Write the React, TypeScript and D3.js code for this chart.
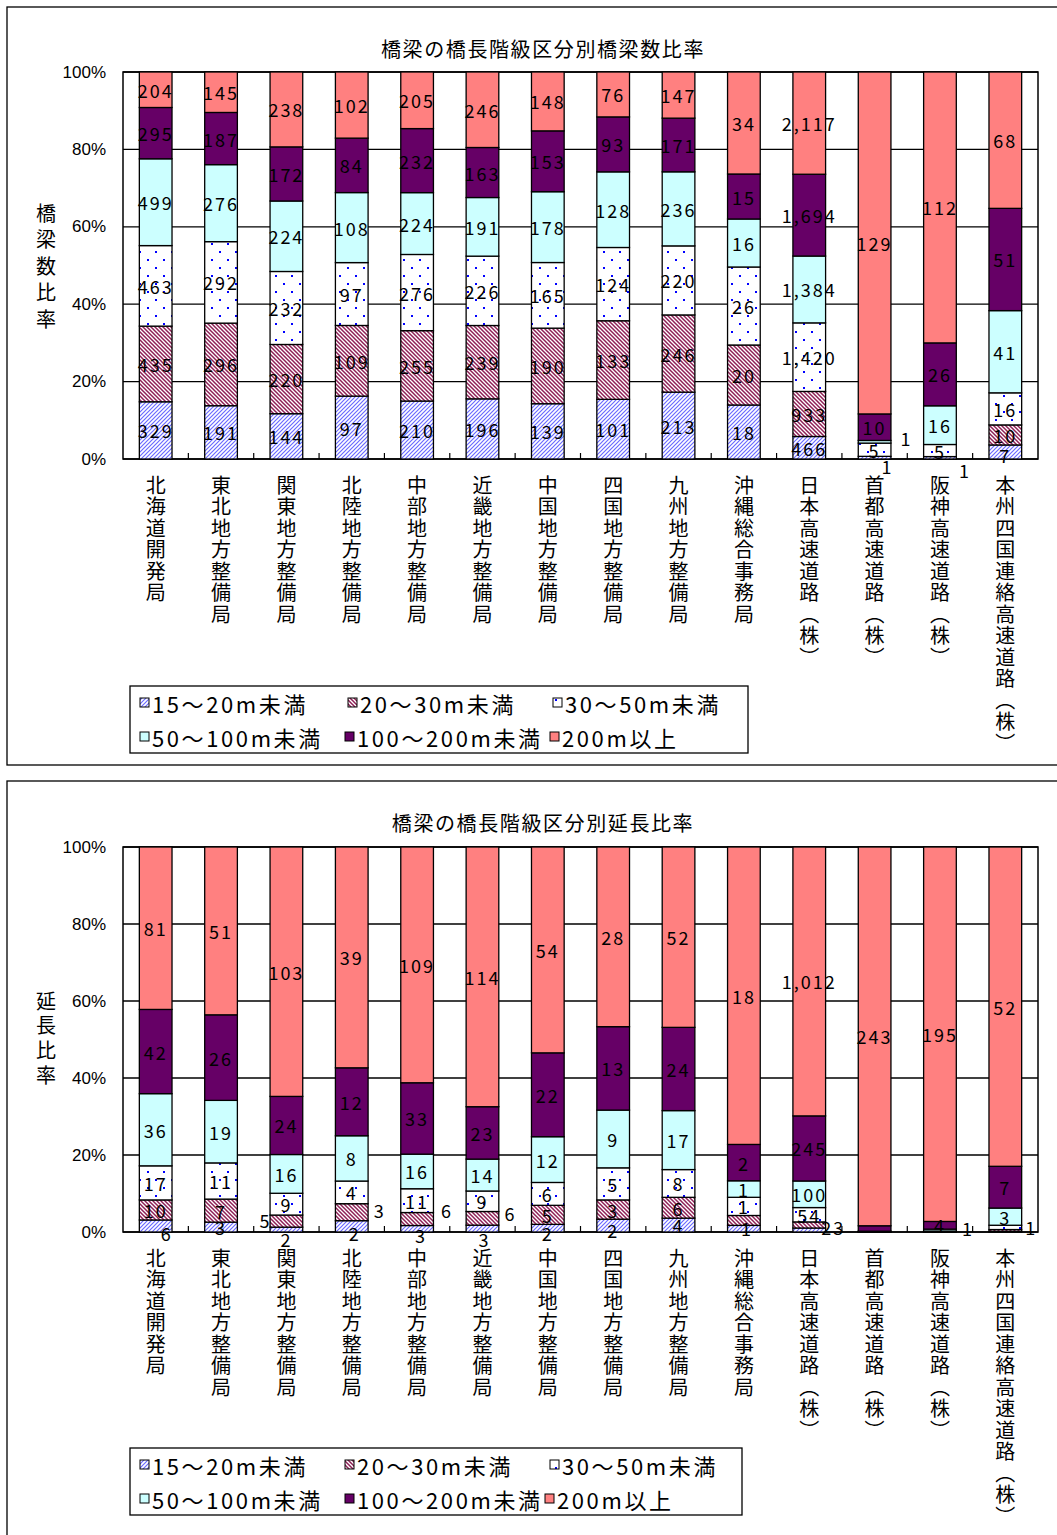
import React from 'react';
import * as d3 from 'd3';

const categories = [
  '北海道開発局', '東北地方整備局', '関東地方整備局', '北陸地方整備局', '中部地方整備局',
  '近畿地方整備局', '中国地方整備局', '四国地方整備局', '九州地方整備局', '沖縄総合事務局',
  '日本高速道路（株）', '首都高速道路（株）', '阪神高速道路（株）', '本州四国連絡高速道路（株）',
];
const seriesNames = ['15～20m未満', '20～30m未満', '30～50m未満', '50～100m未満', '100～200m未満', '200m以上'];
const yTicks = [0, 0.2, 0.4, 0.6, 0.8, 1];

// 橋梁数
const count15to20 = [329, 191, 144, 97, 210, 196, 139, 101, 213, 18, 466, 1, 1, 7];
const count20to30 = [435, 296, 220, 109, 255, 239, 190, 133, 246, 20, 933, 0, 0, 10];
const count30to50 = [463, 292, 232, 97, 276, 226, 165, 124, 220, 26, 1420, 5, 5, 16];
const count50to100 = [499, 276, 224, 108, 224, 191, 178, 128, 236, 16, 1384, 1, 16, 41];
const count100to200 = [295, 187, 172, 84, 232, 163, 153, 93, 171, 15, 1694, 10, 26, 51];
const count200plus = [204, 145, 238, 102, 205, 246, 148, 76, 147, 34, 2117, 129, 112, 68];

// 延長 (km)
const length15to20 = [6, 3, 2, 2, 3, 3, 2, 2, 4, 0.4, 15, 0.1, 0.1, 0.1];
const length20to30 = [10, 7, 5, 3, 6, 6, 5, 3, 6, 0.6, 23, 0.1, 0.1, 0.3];
const length30to50 = [17, 11, 9, 4, 11, 9, 6, 5, 8, 1.1, 54, 0.2, 0.3, 0.7];
const length50to100 = [36, 19, 16, 8, 16, 14, 12, 9, 17, 1.0, 100, 0.1, 1, 2.8];
const length100to200 = [42, 26, 24, 12, 33, 23, 22, 13, 24, 2.2, 245, 3.5, 4, 6.8];
const length200plus = [81, 51, 103, 39, 109, 114, 54, 28, 52, 18, 1012, 243, 195, 52];

// label nudges (category index, series index, dx, dy) and hidden labels
const countLabelShift = [
  [11, 0, 13, 8], [11, 3, 32, -4], [12, 0, 25, 12], [13, 0, 0, 3],
];
const countHidden: number[][] = [];
const lengthLabelShift = [
  [0, 0, 11, 7], [2, 0, 0, 9], [2, 1, -21, -1], [3, 0, 3, 7], [3, 1, 28, -2],
  [4, 0, 4, 6], [4, 1, 30, -9], [5, 0, 2, 10], [5, 1, 28, -5], [6, 0, 0, 5],
  [7, 0, 0, 4], [9, 1, 3, 8], [10, 1, 24, 2], [12, 3, 28, -2], [13, 2, 26, 0],
];
const lengthHidden = [[10, 0], [11, 4]];

const JP = '"Noto Sans CJK JP", "Noto Sans", sans-serif';
const fills = ['url(#pat-s1)', 'url(#pat-s2)', 'url(#pat-s3)', '#CCFFFF', '#660066', '#FF8080'];
const fmt = d3.format(',.0f');

type PanelProps = {
  frameY: number; frameH: number; title: string; titleY: number;
  plotTop: number; plotBottom: number; yTitle: string; yTitleY: number; yTitleSpacing: number;
  xLabelY: number; legendBox: number[]; legendCols: number[][];
  series: number[][]; shifts: number[][]; hidden: number[][];
};

function Panel(p: PanelProps) {
  const left = 123, right = 1038;
  const keys = seriesNames.map((_, j) => 's' + j);
  const table = categories.map((c, i) => {
    const o: any = { cat: c };
    p.series.forEach((arr, j) => { o['s' + j] = arr[i]; });
    return o;
  });
  const stacked = d3.stack<any>().keys(keys).offset(d3.stackOffsetExpand)(table);
  const x = d3.scaleBand<string>().domain(categories).range([left, right]).paddingInner(0.5).paddingOuter(0.25);
  const y = d3.scaleLinear().domain([0, 1]).range([p.plotBottom, p.plotTop]);
  const step = x.step();
  const [lx, ly, lw, lh] = p.legendBox;

  return (
    <g>
      <rect x={7} y={p.frameY} width={1070} height={p.frameH} fill="#fff" stroke="#000" strokeWidth={1.3} />
      <text x={543} y={p.titleY} textAnchor="middle" dominantBaseline="central" fontFamily={JP} fontSize={20} letterSpacing={1.6}>{p.title}</text>
      <rect x={left} y={p.plotTop} width={right - left} height={p.plotBottom - p.plotTop} fill="#fff" stroke="#000" strokeWidth={1.5} />
      {yTicks.map(t => (
        <g key={t}>
          <line x1={left} x2={right} y1={y(t)} y2={y(t)} stroke="#000" strokeWidth={1.3} />
          <text x={106} y={y(t)} textAnchor="end" dominantBaseline="central" fontFamily='"Liberation Sans", Arial, sans-serif' fontSize={17}>{d3.format('.0%')(t)}</text>
        </g>
      ))}
      {d3.range(1, categories.length).map(k => (
        <line key={k} x1={left + k * step} x2={left + k * step} y1={p.plotBottom} y2={p.plotBottom - 6} stroke="#000" strokeWidth={1.2} />
      ))}
      {stacked.map((layer, j) => (
        <g key={j}>
          {layer.map((d, i) => {
            const h = y(d[0]) - y(d[1]);
            if (h <= 0) return null;
            return <rect key={i} x={x(categories[i])} y={y(d[1])} width={x.bandwidth()} height={h} fill={fills[j]} stroke="#000" strokeWidth={1.3} />;
          })}
        </g>
      ))}
      {stacked.map((layer, j) => (
        <g key={'l' + j}>
          {layer.map((d, i) => {
            const v = p.series[j][i];
            const txt = fmt(v);
            if (txt === '0') return null;
            if (p.hidden.some(h => h[0] === i && h[1] === j)) return null;
            const sh = p.shifts.find(s => s[0] === i && s[1] === j);
            const cx = x(categories[i])! + x.bandwidth() / 2 + (sh ? sh[2] : 0);
            const cy = (y(d[0]) + y(d[1])) / 2 + (sh ? sh[3] : 0);
            return <text key={i} x={cx} y={cy} textAnchor="middle" dominantBaseline="central" fontFamily={JP} fontSize={18} letterSpacing={2}>{txt}</text>;
          })}
        </g>
      ))}
      <text x={46} y={p.yTitleY} style={{ writingMode: 'vertical-rl' as any }} fontFamily={JP} fontSize={20} letterSpacing={p.yTitleSpacing}>{p.yTitle}</text>
      {categories.map(c => (
        <text key={c} x={x(c)! + x.bandwidth() / 2} y={p.xLabelY} style={{ writingMode: 'vertical-rl' as any }} fontFamily={JP} fontSize={20} letterSpacing={1.5}>{c}</text>
      ))}
      <rect x={lx} y={ly} width={lw} height={lh} fill="#fff" stroke="#000" strokeWidth={1.3} />
      {seriesNames.map((s, j) => {
        const row = Math.floor(j / 3), col = j % 3;
        const mx = p.legendCols[row][col];
        const my = ly + 17 + row * 34;
        return (
          <g key={s}>
            <rect x={mx} y={my - 5} width={9} height={9} fill={fills[j]} stroke="#000" strokeWidth={1} />
            <text x={mx + 12} y={my} dominantBaseline="central" fontFamily={JP} fontSize={22} letterSpacing={2.6}>{s}</text>
          </g>
        );
      })}
    </g>
  );
}

export default function App() {
  return (
    <svg width={1057} height={1535} style={{ position: 'absolute', left: 0, top: 0, background: '#fff' }}>
      <defs>
        <pattern id="pat-s1" patternUnits="userSpaceOnUse" width={4} height={4}>
          <rect width={4} height={4} fill="#fff" />
          <path d="M-1,1 L1,-1 M0,4 L4,0 M3,5 L5,3" stroke="#6A6AFF" strokeWidth={1.2} />
        </pattern>
        <pattern id="pat-s2" patternUnits="userSpaceOnUse" width={4} height={4}>
          <rect width={4} height={4} fill="#fff" />
          <path d="M-1,3 L1,5 M0,0 L4,4 M3,-1 L5,1" stroke="#8E1F55" strokeWidth={1.5} />
        </pattern>
        <pattern id="pat-s3" patternUnits="userSpaceOnUse" width={16} height={16}>
          <rect width={16} height={16} fill="#fff" />
          <rect x={3} y={3} width={2} height={2} fill="#0000FF" />
          <rect x={11} y={11} width={2} height={2} fill="#0000FF" />
        </pattern>
      </defs>
      <rect width={1057} height={1535} fill="#fff" />
      <Panel frameY={7} frameH={758} title="橋梁の橋長階級区分別橋梁数比率" titleY={48}
        plotTop={72} plotBottom={459} yTitle="橋梁数比率" yTitleY={203} yTitleSpacing={6.5}
        xLabelY={475} legendBox={[130, 686, 618, 67]} legendCols={[[140, 348, 553], [140, 345, 550]]}
        series={[count15to20, count20to30, count30to50, count50to100, count100to200, count200plus]}
        shifts={countLabelShift} hidden={countHidden} />
      <Panel frameY={781} frameH={780} title="橋梁の橋長階級区分別延長比率" titleY={822}
        plotTop={847} plotBottom={1232} yTitle="延長比率" yTitleY={991} yTitleSpacing={4.7}
        xLabelY={1248} legendBox={[130, 1448, 612, 67]} legendCols={[[140, 345, 550], [140, 345, 545]]}
        series={[length15to20, length20to30, length30to50, length50to100, length100to200, length200plus]}
        shifts={lengthLabelShift} hidden={lengthHidden} />
    </svg>
  );
}
